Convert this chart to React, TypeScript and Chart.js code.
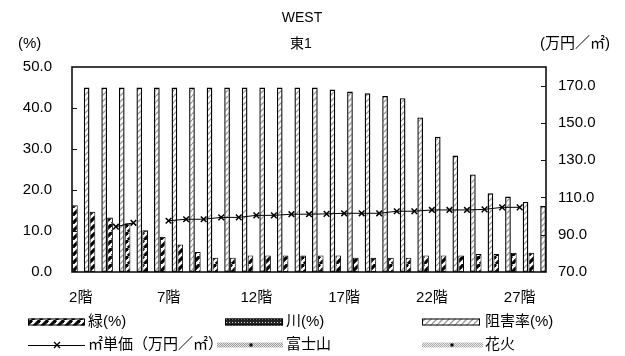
import React, { useEffect, useRef } from "react";
import { Chart, registerables } from "chart.js";

Chart.register(...registerables);

const floors = [
  "2階", "3階", "4階", "5階", "6階", "7階", "8階", "9階", "10階", "11階",
  "12階", "13階", "14階", "15階", "16階", "17階", "18階", "19階", "20階", "21階",
  "22階", "23階", "24階", "25階", "26階", "27階", "28階",
];

// 緑(%)
const midori = [
  16.3, 14.7, 13.3, 11.9, 10.2, 8.6, 6.7, 4.9, 3.5, 3.5,
  4.0, 4.0, 4.0, 4.0, 4.0, 4.0, 3.5, 3.5, 3.5, 3.5,
  4.0, 4.0, 4.0, 4.4, 4.4, 4.7, 4.7,
];

// 川(%)
const kawa: (number | null)[] = [
  null, null, null, null, null, null, null, null, null, null,
  null, null, null, null, null, null, null, null, null, null,
  null, null, null, null, null, null, null,
];

// 阻害率(%)
const sogai = [
  45.0, 45.0, 45.0, 45.0, 45.0, 45.0, 45.0, 45.0, 45.0, 45.0,
  45.0, 45.0, 45.0, 45.0, 44.5, 44.0, 43.6, 42.9, 42.4, 37.7,
  33.0, 28.4, 23.8, 19.2, 18.4, 17.1, 16.1,
];

// ㎡単価(万円/㎡)
const tanka: (number | null)[] = [
  null, null, 94.3, 96.4, null, 97.5, 98.3, 98.3, 99.3, 99.3,
  100.4, 100.4, 101.0, 101.0, 101.2, 101.5, 101.5, 101.5, 102.6, 102.6,
  103.3, 103.3, 103.3, 103.6, 104.7, 104.7, null,
];

const fuji: (number | null)[] = [];
const hanabi: (number | null)[] = [];

const leftTicks = [0, 10, 20, 30, 40, 50];
const rightTicks = [70, 90, 110, 130, 150, 170];

const titleLines = ["WEST", "東1"];
const leftAxisTitle = "(%)";
const rightAxisTitle = "(万円／㎡)";

const FONT = '"Liberation Sans", "Noto Sans CJK JP", sans-serif';

export default function App() {
  const ref = useRef<HTMLCanvasElement>(null);

  useEffect(() => {
    const canvas = ref.current!;
    const ctx = canvas.getContext("2d")!;

    const mk = (w: number, h: number, draw: (g: CanvasRenderingContext2D) => void) => {
      const c = document.createElement("canvas");
      c.width = w;
      c.height = h;
      const g = c.getContext("2d")!;
      draw(g);
      return ctx.createPattern(c, "repeat")!;
    };

    const greenPat = mk(8, 8, (g) => {
      g.fillStyle = "#fff";
      g.fillRect(0, 0, 8, 8);
      g.strokeStyle = "#000";
      g.lineWidth = 3.2;
      for (const k of [-8, 0, 8]) {
        g.beginPath();
        g.moveTo(k, 8);
        g.lineTo(k + 8, 0);
        g.stroke();
      }
    });

    const kawaPat = mk(3, 3, (g) => {
      g.fillStyle = "#222";
      g.fillRect(0, 0, 3, 3);
      g.fillStyle = "#ddd";
      g.fillRect(1, 1, 1, 1);
    });

    const sogaiPat = mk(6, 6, (g) => {
      g.fillStyle = "#fff";
      g.fillRect(0, 0, 6, 6);
      g.strokeStyle = "#9a9a9a";
      g.lineWidth = 1.3;
      for (const k of [-6, 0, 6]) {
        g.beginPath();
        g.moveTo(k, 6);
        g.lineTo(k + 6, 0);
        g.stroke();
      }
    });

    const dotPat = (dark: string, light: string) =>
      mk(2, 2, (g) => {
        g.fillStyle = light;
        g.fillRect(0, 0, 2, 2);
        g.fillStyle = dark;
        g.fillRect(0, 0, 1, 1);
        g.fillRect(1, 1, 1, 1);
      });
    const fujiPat = dotPat("#9a9a9a", "#e6e6e6");
    const hanabiPat = dotPat("#a8a8a8", "#eeeeee");

    const overlay = {
      id: "overlay",
      afterDatasetsDraw(chart: any) {
        const { left, right, top, bottom } = chart.chartArea;
        const c = chart.ctx;
        c.save();
        c.strokeStyle = "#111";
        c.lineWidth = 1.6;
        c.strokeRect(left, top, right - left, bottom - top);
        const ys = chart.scales.y;
        const y2 = chart.scales.y2;
        c.lineWidth = 1.2;
        c.beginPath();
        for (const v of leftTicks) {
          if (v === leftTicks[0] || v === leftTicks[leftTicks.length - 1]) continue;
          const py = Math.round(ys.getPixelForValue(v)) + 0.5;
          c.moveTo(left, py);
          c.lineTo(left + 5, py);
        }
        for (const v of rightTicks) {
          if (v === rightTicks[0]) continue;
          const py = Math.round(y2.getPixelForValue(v)) + 0.5;
          c.moveTo(right, py);
          c.lineTo(right - 5, py);
        }
        c.stroke();
        c.restore();
      },
      afterDraw(chart: any) {
        const c = chart.ctx;
        c.save();
        c.fillStyle = "#000";
        c.font = `14px ${FONT}`;
        c.textBaseline = "middle";
        c.textAlign = "center";
        c.fillText(titleLines[0], 302, 18);
        c.fillText(titleLines[1], 301, 44);
        c.font = `15px ${FONT}`;
        c.textAlign = "left";
        c.fillText(leftAxisTitle, 18, 44);
        c.fillText(rightAxisTitle, 540, 44);

        const ds = chart.data.datasets;
        const row1 = 322;
        const row2 = 345;
        const barSw = (i: number, x0: number, x1: number) => {
          c.fillStyle = ds[i].backgroundColor;
          c.fillRect(x0, row1 - 3.5, x1 - x0, 7);
          c.strokeStyle = "#000";
          c.lineWidth = 1;
          c.strokeRect(x0 + 0.5, row1 - 3.5 + 0.5, x1 - x0 - 1, 6);
        };
        barSw(0, 28, 85);
        barSw(1, 225, 283);
        barSw(2, 422, 480);
        c.fillStyle = "#000";
        c.textAlign = "left";
        c.fillText(ds[0].label, 88, row1);
        c.fillText(ds[1].label, 286, row1);
        c.fillText(ds[2].label, 485, row1);

        c.strokeStyle = "#000";
        c.lineWidth = 1;
        c.beginPath();
        c.moveTo(28, row2 + 0.5);
        c.lineTo(85, row2 + 0.5);
        c.stroke();
        c.lineWidth = 1.4;
        c.beginPath();
        c.moveTo(57 - 3, row2 - 3);
        c.lineTo(57 + 3, row2 + 3);
        c.moveTo(57 + 3, row2 - 3);
        c.lineTo(57 - 3, row2 + 3);
        c.stroke();

        const bandSw = (i: number, x0: number, x1: number, mx: number) => {
          c.fillStyle = ds[i].borderColor;
          c.fillRect(x0, row2 - 2.5, x1 - x0, 5);
          c.fillStyle = "#000";
          c.fillRect(mx - 1.5, row2 - 1.5, 3, 3);
        };
        bandSw(4, 217, 283, 251);
        bandSw(5, 422, 483, 452);

        c.fillStyle = "#000";
        c.fillText(ds[3].label, 88, row2);
        c.fillText(ds[4].label, 286, row2);
        c.fillText(ds[5].label, 485, row2);
        c.restore();
      },
    };

    const chart = new Chart(ctx, {
      type: "bar",
      data: {
        labels: floors,
        datasets: [
          {
            type: "bar",
            label: "緑(%)",
            data: midori,
            backgroundColor: greenPat,
            borderColor: "#000",
            borderWidth: 1,
            borderSkipped: false,
            yAxisID: "y",
            order: 2,
          },
          {
            type: "bar",
            label: "川(%)",
            data: kawa,
            backgroundColor: kawaPat,
            borderColor: "#000",
            borderWidth: 1,
            borderSkipped: false,
            yAxisID: "y",
            order: 2,
          },
          {
            type: "bar",
            label: "阻害率(%)",
            data: sogai,
            backgroundColor: sogaiPat,
            borderColor: "#000",
            borderWidth: 1.4,
            borderSkipped: false,
            yAxisID: "y",
            order: 2,
          },
          {
            type: "line",
            label: "㎡単価（万円／㎡）",
            data: tanka,
            yAxisID: "y2",
            borderColor: "#000",
            backgroundColor: "#000",
            borderWidth: 1,
            pointStyle: "crossRot",
            pointRadius: 4,
            pointBorderWidth: 1.5,
            pointBorderColor: "#000",
            spanGaps: false,
            order: 0,
          },
          {
            type: "line",
            label: "富士山",
            data: fuji,
            yAxisID: "y2",
            borderColor: fujiPat,
            borderWidth: 5,
            pointRadius: 0,
            order: 1,
          },
          {
            type: "line",
            label: "花火",
            data: hanabi,
            yAxisID: "y2",
            borderColor: hanabiPat,
            borderWidth: 5,
            pointRadius: 0,
            order: 1,
          },
        ],
      } as any,
      options: {
        responsive: false,
        animation: false,
        layout: { padding: { top: 67, left: 0, right: 0, bottom: 0 } },
        plugins: {
          legend: { display: false },
          title: { display: false },
          tooltip: { enabled: false },
        },
        datasets: {
          bar: { categoryPercentage: 1.0, barPercentage: 0.97 },
        },
        scales: {
          x: {
            grid: { display: false, drawTicks: false },
            border: { display: false },
            ticks: {
              autoSkip: false,
              maxRotation: 0,
              minRotation: 0,
              padding: 17,
              color: "#000",
              font: { family: FONT, size: 15 },
              callback: (_v: any, i: number) => (i % 5 === 0 ? floors[i] : ""),
            },
            afterFit: (s: any) => {
              s.height = 84;
            },
          },
          y: {
            position: "left",
            min: leftTicks[0],
            max: leftTicks[leftTicks.length - 1],
            afterBuildTicks: (s: any) => {
              s.ticks = leftTicks.map((v) => ({ value: v }));
            },
            grid: { display: false, drawTicks: false },
            border: { display: false },
            ticks: {
              padding: 20,
              color: "#000",
              font: { family: FONT, size: 15 },
              callback: (v: any) => Number(v).toFixed(1),
            },
            afterFit: (s: any) => {
              s.width = 72;
            },
          },
          y2: {
            position: "right",
            min: 70,
            max: 180,
            afterBuildTicks: (s: any) => {
              s.ticks = rightTicks.map((v) => ({ value: v }));
            },
            grid: { display: false, drawTicks: false },
            border: { display: false },
            ticks: {
              padding: 12,
              color: "#000",
              font: { family: FONT, size: 15 },
              callback: (v: any) => Number(v).toFixed(1),
            },
            afterFit: (s: any) => {
              s.width = 79;
            },
          },
        },
      } as any,
      plugins: [overlay],
    });

    return () => chart.destroy();
  }, []);

  return (
    <div
      style={{
        position: "fixed",
        left: 0,
        top: 0,
        width: 625,
        height: 356,
        background: "#fff",
      }}
    >
      <canvas ref={ref} width={625} height={356} style={{ display: "block" }} />
    </div>
  );
}
